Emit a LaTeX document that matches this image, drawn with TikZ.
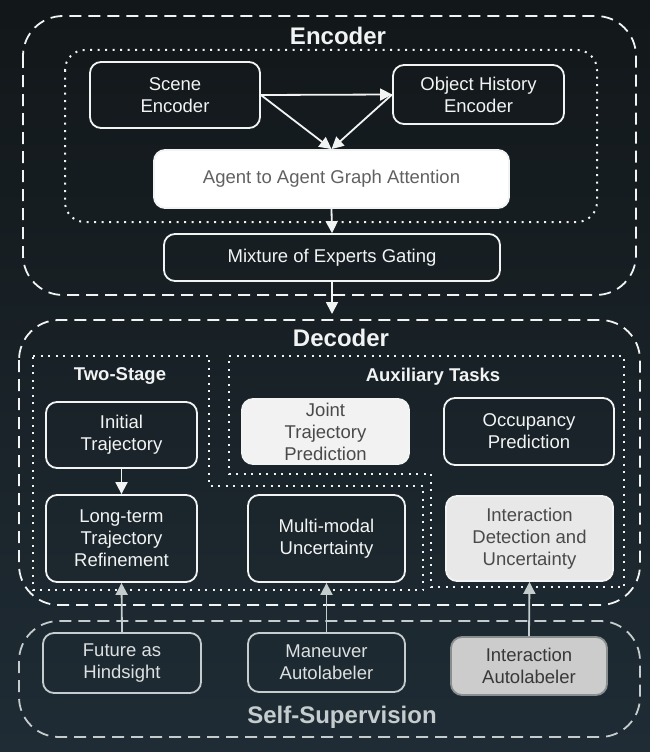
\documentclass[tikz,border=0pt]{standalone}
\usepackage{fontspec}
\setmainfont{Liberation Sans}
\usetikzlibrary{arrows.meta}
\definecolor{bgtop}{HTML}{121719}
\definecolor{bgbot}{HTML}{1F2C35}
\definecolor{lineW}{HTML}{F2F4F4}
\definecolor{lineG}{HTML}{C4CCCD}
\definecolor{txtD}{HTML}{4A4A4A}
\begin{document}
\begin{tikzpicture}[x=1pt,y=-1pt,
  every node/.style={font=\fontsize{18.5}{22}\selectfont,align=center,text=lineW,inner sep=0pt},
  block/.style={draw=lineW,line width=1.8pt,rounded corners=11pt},
  lightblock/.style={block,fill=#1,text=txtD},
  lowblock/.style={draw=lineG,line width=1.8pt,rounded corners=11pt,text=lineG!60!white},
  dashbox/.style={draw=lineW,line width=1.8pt,dash pattern=on 12pt off 7pt,rounded corners=40pt},
  dotbox/.style={draw=lineW,line width=2pt,dash pattern=on 2pt off 5.5pt},
  title/.style={font=\fontsize{24}{28}\bfseries\selectfont},
  subtitle/.style={font=\fontsize{18.5}{22}\bfseries\selectfont},
  arr/.style={-{Triangle[width=12pt,length=12pt]},line width=1.8pt,draw=lineW},
  uparr/.style={arr,draw=lineG}]
\useasboundingbox (0,0) rectangle (650,752);
\shade[top color=bgtop,bottom color=bgbot] (0,0) rectangle (650,752);
% encoder
\draw[dashbox] (23,16) rectangle (636,295);
\draw[dotbox,rounded corners=20pt] (65,50) rectangle (597,222);
\node[title] (enctitle) at (338,36) {Encoder};
\node[block,minimum width=170,minimum height=66] (scene) at (175,95) {Scene\\Encoder};
\node[block,minimum width=171,minimum height=59] (hist) at (478.5,94.5) {Object History\\Encoder};
\node[lightblock=white,text=black!62,minimum width=355,minimum height=58] (agent) at (331.5,179) {Agent to Agent Graph Attention};
\node[block,minimum width=336,minimum height=47] (moe) at (332,257.5) {Mixture of Experts Gating};
\draw[arr] (scene.east) -- (hist.west);
\draw[arr] (scene.east) -- (agent.north);
\draw[arr] (hist.west) -- (agent.north);
\draw[arr] (agent.south) -- (moe.north);
\coordinate (decin) at (332,314);
\draw[arr] (moe.south) -- (decin);
% decoder
\draw[dashbox] (19,320) rectangle (640,605);
\draw[dotbox] (33,356) -- (209,356) -- (209,486) -- (423,486) -- (423,590) -- (33,590) -- cycle;
\draw[dotbox] (229,356) -- (624,356) -- (624,587) -- (431,587) -- (431,474) -- (229,474) -- cycle;
\node[title] (dectitle) at (341,338) {Decoder};
\node[subtitle] (twostage) at (120,376) {Two-Stage};
\node[subtitle] (aux) at (433,377) {Auxiliary Tasks};
\node[block,minimum width=151,minimum height=66] (init) at (121.5,435) {Initial\\Trajectory};
\node[block,minimum width=151,minimum height=87] (refine) at (121.5,538.5) {Long-term\\Trajectory\\Refinement};
\node[lightblock=black!5,minimum width=167,minimum height=65] (joint) at (325.5,431.5) {Joint\\Trajectory\\Prediction};
\node[block,minimum width=170,minimum height=67] (occ) at (529,431.5) {Occupancy\\Prediction};
\node[block,minimum width=157,minimum height=87] (multi) at (326.5,538.5) {Multi-modal\\Uncertainty};
\node[lightblock=black!9,minimum width=167,minimum height=85] (interdet) at (529.5,538.5) {Interaction\\Detection and\\Uncertainty};
\draw[arr] (init.south) -- (refine.north);
% self-supervision
\draw[dashbox,draw=lineG] (19,621) rectangle (640,737);
\node[title,text=lineG] (selfsup) at (342,717) {Self-Supervision};
\node[lowblock,minimum width=158,minimum height=60] (future) at (122,663) {Future as\\Hindsight};
\node[lowblock,minimum width=157,minimum height=59] (maneuver) at (326.5,662.5) {Maneuver\\Autolabeler};
\node[lightblock=black!20,draw=lineG!70!black,text=black!78,minimum width=156,minimum height=58] (interauto) at (529,666) {Interaction\\Autolabeler};
\draw[uparr] (future.north) -- (refine.south);
\draw[uparr] (maneuver.north) -- (multi.south);
\draw[uparr] (interauto.north) -- (interdet.south);
\end{tikzpicture}
\end{document}
